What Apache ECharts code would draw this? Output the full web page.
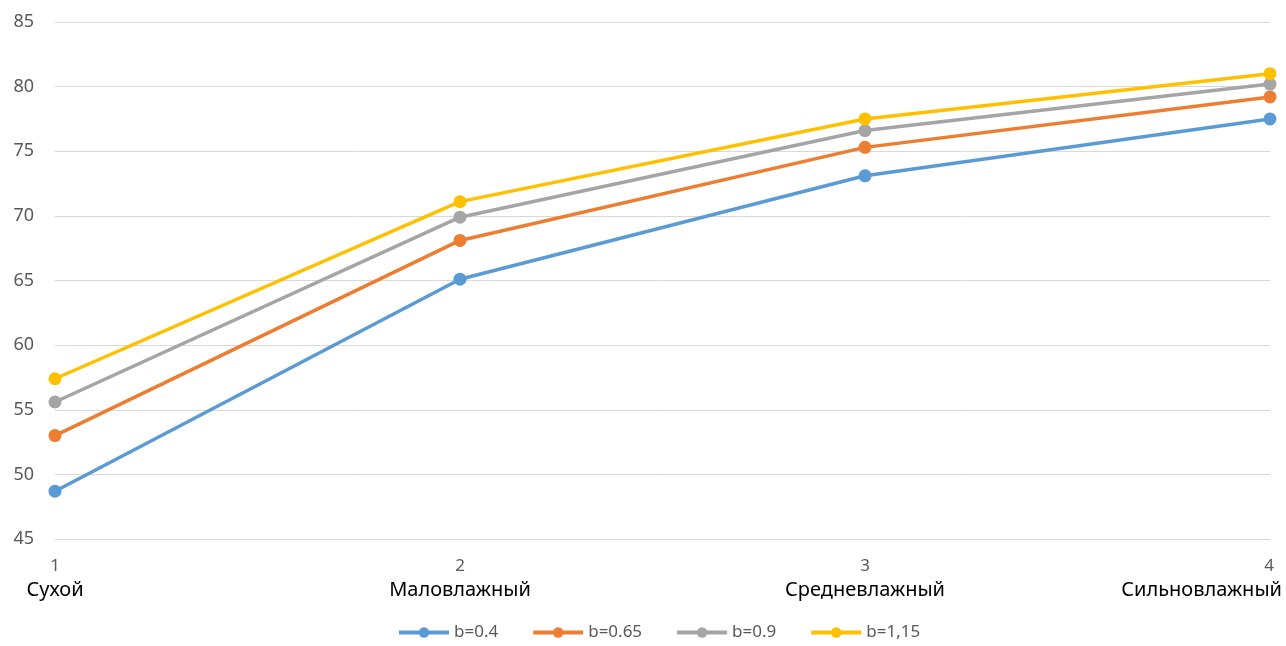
<!DOCTYPE html>
<html>
<head>
<meta charset="utf-8">
<script src="https://cdn.jsdelivr.net/npm/echarts@6/dist/echarts.min.js"></script>
<style>
  html, body { margin: 0; padding: 0; background: #fff; }
  #chart { width: 1286px; height: 646px; }
</style>
</head>
<body>
<div id="chart"></div>
<script>
// Category positions (1..4) and the humidity zone names under them
const categoryNumbers = ['1', '2', '3', '4'];
const zoneNames = ['Сухой', 'Маловлажный', 'Средневлажный', 'Сильновлажный'];

// Series values for each coefficient b
const seriesNames = ['b=0.4', 'b=0.65', 'b=0.9', 'b=1,15'];
const valuesB040 = [48.7, 65.1, 73.1, 77.5];
const valuesB065 = [53.0, 68.1, 75.3, 79.2];
const valuesB090 = [55.6, 69.9, 76.6, 80.2];
const valuesB115 = [57.4, 71.1, 77.5, 81.0];

// Y axis range and step
const yMin = 45, yMax = 85, yStep = 5;

const colors = ['#5B9BD5', '#ED7D31', '#A5A5A5', '#FFC000'];
const fontFamily = '"Noto Sans", "Open Sans", sans-serif';

const seriesValues = [valuesB040, valuesB065, valuesB090, valuesB115];
const lastIdx = categoryNumbers.length - 1;

const xData = categoryNumbers.map((n, i) => {
  if (i === lastIdx) {
    // last label is right-aligned and allowed to extend past the plot edge
    return { value: n, textStyle: { align: 'right', padding: [0, -12, 0, 0] } };
  }
  return n;
});

const chart = echarts.init(document.getElementById('chart'), null, { renderer: 'canvas' });

chart.setOption({
  animation: false,
  color: colors,
  grid: { left: 55, right: 16, top: 22, bottom: 107, containLabel: false },
  legend: {
    data: seriesNames,
    bottom: 0,
    left: 392,
    itemWidth: 50,
    itemHeight: 13,
    itemGap: 33,
    lineStyle: { width: 4 },
    textStyle: { color: '#595959', fontSize: 17, fontFamily }
  },
  xAxis: {
    type: 'category',
    boundaryGap: false,
    data: xData,
    axisLine: { show: true, lineStyle: { color: '#d9d9d9', width: 1 } },
    axisTick: { show: false },
    splitLine: { show: false },
    axisLabel: {
      interval: 0,
      margin: 16,
      formatter: (value, index) => {
        const numStyle = index === lastIdx ? 'nl' : 'n';
        return '{' + numStyle + '|' + value + '}\n{c|' + zoneNames[index] + '}';
      },
      rich: {
        n: { color: '#595959', fontSize: 17, fontFamily, lineHeight: 22 },
        nl: { color: '#595959', fontSize: 17, fontFamily, lineHeight: 22, padding: [0, 8, 0, 0] },
        c: { color: '#000000', fontSize: 20, fontFamily, lineHeight: 26 }
      }
    }
  },
  yAxis: {
    type: 'value',
    min: yMin,
    max: yMax,
    interval: yStep,
    axisLine: { show: false },
    axisTick: { show: false },
    axisLabel: { color: '#595959', fontSize: 18, fontFamily, margin: 21 },
    splitLine: { lineStyle: { color: '#d9d9d9', width: 1 } }
  },
  series: seriesNames.map((name, i) => ({
    name,
    type: 'line',
    data: seriesValues[i],
    symbol: 'circle',
    symbolSize: 13,
    lineStyle: { width: 3.5, color: colors[i] },
    itemStyle: { color: colors[i] },
    z: 2 + i
  }))
});
</script>
</body>
</html>
